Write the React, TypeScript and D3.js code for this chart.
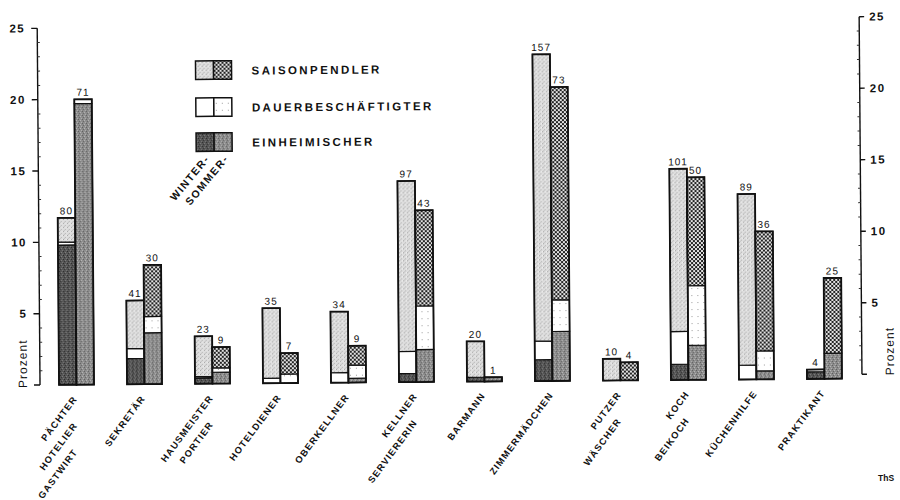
import React from 'react';
import * as d3 from 'd3';

// ---- data ----
const categories = [
  'PÄCHTER|HOTELIER|GASTWIRT', 'SEKRETÄR', 'HAUSMEISTER|PORTIER', 'HOTELDIENER', 'OBERKELLNER',
  'KELLNER|SERVIERERIN', 'BARMANN', 'ZIMMERMÄDCHEN', 'PUTZER|WÄSCHER', 'KOCH|BEIKOCH',
  'KÜCHENHILFE', 'PRAKTIKANT',
];
const seasons = ['winter', 'sommer'];
const winterCount = [80, 41, 23, 35, 34, 97, 20, 157, 10, 101, 89, 4];
const sommerCount = [71, 30, 9, 7, 9, 43, 1, 73, 4, 50, 36, 25];
const winterEinheimisch = [9.8, 1.8, 0.4, 0, 0, 0.6, 0.3, 1.5, 0, 1.1, 0, 0.5];
const winterDauer = [0.2, 0.7, 0.1, 0.35, 0.7, 1.55, 0, 1.3, 0, 2.3, 1.0, 0.16];
const winterSaison = [1.7, 3.37, 2.83, 4.91, 4.28, 11.95, 2.52, 20.1, 1.52, 11.4, 12.0, 0];
const sommerEinheimisch = [19.7, 3.6, 0.8, 0, 0.3, 2.28, 0.3, 3.47, 0, 2.42, 0.59, 1.79];
const sommerDauer = [0.3, 1.14, 0.3, 0.63, 0.92, 3.05, 0, 2.21, 0, 4.18, 1.4, 0];
const sommerSaison = [0, 3.62, 1.46, 1.47, 1.36, 6.71, 0, 14.92, 1.27, 7.6, 8.38, 5.28];
const yTicks = [5, 10, 15, 20, 25];
const minorTicks = d3.range(0, 26);
const legendLabels = ['SAISONPENDLER', 'DAUERBESCHÄFTIGTER', 'EINHEIMISCHER'];
const seasonLabels = ['WINTER-', 'SOMMER-'];
const keys = ['einheimisch', 'dauer', 'saison'];

const FONT = "'Liberation Sans', Arial, Helvetica, sans-serif";

const fills: Record<string, Record<string, string>> = {
  winter: { einheimisch: 'url(#pWE)', dauer: '#ffffff', saison: 'url(#pWS)' },
  sommer: { einheimisch: 'url(#pSE)', dauer: 'url(#pSD)', saison: 'url(#pSS)' },
};

export default function App() {
  const x = d3.scaleBand<string>().domain(categories).range([59, 842]).paddingInner(0.485).paddingOuter(0);
  const xs = d3.scaleBand<string>().domain(seasons).range([0, x.bandwidth()]);
  const y = d3.scaleLinear().domain([0, 25]).range([381.8, 25.1]);
  const yR = d3.scaleLinear().domain([0, 25]).range([377.5, 19.9]);

  const rows = (season: string) =>
    categories.map((c, i) => ({
      cat: c,
      einheimisch: season === 'winter' ? winterEinheimisch[i] : sommerEinheimisch[i],
      dauer: season === 'winter' ? winterDauer[i] : sommerDauer[i],
      saison: season === 'winter' ? winterSaison[i] : sommerSaison[i],
      count: season === 'winter' ? winterCount[i] : sommerCount[i],
    }));
  const stack = d3.stack<any>().keys(keys);
  const stacked: Record<string, any> = { winter: stack(rows('winter')), sommer: stack(rows('sommer')) };

  const axL = 40;
  const axR = 862;

  return (
    <svg width={900} height={500} style={{ position: 'absolute', left: 0, top: 0, background: '#fff' }}
      fontFamily={FONT}>
      <defs>
        <pattern id="pWS" width="4" height="4" patternUnits="userSpaceOnUse">
          <rect width="4" height="4" fill="#dedede" />
          <rect x="0" y="0" width="1" height="1" fill="#a0a0a0" />
          <rect x="2" y="2" width="1" height="1" fill="#b4b4b4" />
          <rect x="3" y="0" width="1" height="1" fill="#f6f6f6" />
          <rect x="1" y="3" width="1" height="1" fill="#c0c0c0" />
        </pattern>
        <pattern id="pSS" width="4" height="4" patternUnits="userSpaceOnUse">
          <rect width="4" height="4" fill="#e2e2e2" />
          <rect x="0" y="0" width="2" height="2" fill="#222222" />
          <rect x="2" y="2" width="2" height="2" fill="#222222" />
        </pattern>
        <pattern id="pWE" width="4" height="4" patternUnits="userSpaceOnUse">
          <rect width="4" height="4" fill="#555555" />
          <rect x="0" y="0" width="1" height="1" fill="#2a2a2a" />
          <rect x="2" y="1" width="1" height="1" fill="#808080" />
          <rect x="1" y="2" width="1" height="1" fill="#333333" />
          <rect x="3" y="3" width="1" height="1" fill="#777777" />
        </pattern>
        <pattern id="pSE" width="4" height="4" patternUnits="userSpaceOnUse">
          <rect width="4" height="4" fill="#8c8c8c" />
          <rect x="0" y="0" width="1" height="1" fill="#5a5a5a" />
          <rect x="2" y="1" width="1" height="1" fill="#bcbcbc" />
          <rect x="1" y="2" width="1" height="1" fill="#626262" />
          <rect x="3" y="3" width="1" height="1" fill="#b4b4b4" />
        </pattern>
        <pattern id="pSD" width="6" height="7" patternUnits="userSpaceOnUse">
          <rect width="6" height="7" fill="#ffffff" />
          <rect x="2" y="3" width="1" height="1" fill="#9a9a9a" />
        </pattern>
      </defs>

      <g transform="rotate(-0.45 450 381)">
        {/* left axis */}
        <line x1={axL} x2={axL} y1={y(25)} y2={y(0)} stroke="#111" strokeWidth={1.4} />
        {[0, ...yTicks].map(t => (
          <line key={'lt' + t} x1={axL - 6} x2={axL} y1={y(t)} y2={y(t)} stroke="#111" strokeWidth={1.4} />
        ))}
        {minorTicks.filter(t => t % 5 !== 0).map(t => (
          <line key={'lm' + t} x1={axL} x2={axL + 2.5} y1={y(t)} y2={y(t)} stroke="#333" strokeWidth={1} />
        ))}
        {yTicks.map(t => (
          <text key={'ll' + t} x={axL - 12} y={y(t)} dy="0.35em" textAnchor="end" fontSize={11.5}
            fontWeight="bold" letterSpacing={1.5} fill="#111">{t}</text>
        ))}
        <text transform={`translate(27, ${y(1.5)}) rotate(-90)`} textAnchor="middle" fontSize={12}
          letterSpacing={1} fill="#111">Prozent</text>

        {/* right axis */}
        <line x1={axR} x2={axR} y1={yR(25)} y2={yR(0)} stroke="#111" strokeWidth={1.4} />
        {[0, ...yTicks].map(t => (
          <line key={'rt' + t} x1={axR} x2={axR + 5} y1={yR(t)} y2={yR(t)} stroke="#111" strokeWidth={1.4} />
        ))}
        {minorTicks.filter(t => t % 5 !== 0).map(t => (
          <line key={'rm' + t} x1={axR - 2.5} x2={axR} y1={yR(t)} y2={yR(t)} stroke="#333" strokeWidth={1} />
        ))}
        {yTicks.map(t => (
          <text key={'rl' + t} x={axR + 10} y={yR(t)} dy="0.35em" textAnchor="start" fontSize={11.5}
            fontWeight="bold" letterSpacing={1.5} fill="#111">{t}</text>
        ))}
        <text transform={`translate(894, ${yR(1.6)}) rotate(-90)`} textAnchor="middle" fontSize={12}
          letterSpacing={1} fill="#111">Prozent</text>

        {/* bars */}
        {seasons.map(season => (
          <g key={season}>
            {stacked[season].map((layer: any) => (
              <g key={layer.key}>
                {layer.map((d: any) => {
                  const h = y(d[0]) - y(d[1]);
                  if (h <= 0) return null;
                  return (
                    <rect key={d.data.cat} x={(x(d.data.cat) as number) + (xs(season) as number)}
                      y={y(d[1])} width={xs.bandwidth()} height={h}
                      fill={fills[season][layer.key]} stroke="#111" strokeWidth={1.2} />
                  );
                })}
              </g>
            ))}
            {rows(season).map(r => {
              const total = r.einheimisch + r.dauer + r.saison;
              const bx = (x(r.cat) as number) + (xs(season) as number);
              return (
                <g key={'o' + r.cat}>
                  <rect x={bx} y={y(total)} width={xs.bandwidth()} height={y(0) - y(total)}
                    fill="none" stroke="#111" strokeWidth={1.8} />
                  <text x={bx + xs.bandwidth() / 2} y={y(total) - 3.5} textAnchor="middle" fontSize={10}
                    letterSpacing={1} fill="#111">{r.count}</text>
                </g>
              );
            })}
          </g>
        ))}

        {/* category labels */}
        {categories.map(c => {
          const cx = (x(c) as number) + x.bandwidth() / 2;
          return c.split('|').map((line, i) => (
            <text key={c + i} transform={`translate(${cx + 1}, ${396 + 26.5 * i}) rotate(-53)`}
              textAnchor="end" fontSize={9.3} fontWeight="bold" letterSpacing={1.2} fill="#111">{line}</text>
          ));
        })}

        {/* legend */}
        {legendLabels.map((lab, i) => {
          const ly = [59, 96, 131][i];
          const key = keys[2 - i];
          return (
            <g key={lab}>
              <rect x={198} y={ly} width={18} height={18.5} fill={fills.winter[key]} stroke="#111" strokeWidth={1.5} />
              <rect x={216} y={ly} width={18} height={18.5} fill={fills.sommer[key]} stroke="#111" strokeWidth={1.5} />
              <text x={254} y={ly + 14} fontSize={11.5} fontWeight="bold" letterSpacing={2.4} fill="#111">{lab}</text>
            </g>
          );
        })}
        {seasonLabels.map((lab, i) => (
          <text key={lab} transform={`translate(${212 + 19 * i}, 157) rotate(-50)`} textAnchor="end"
            fontSize={10.5} fontWeight="bold" letterSpacing={1.5} fill="#111">{lab}</text>
        ))}
      </g>

      <text x={878} y={481} fontSize={8.5} fontWeight="bold" fill="#111">ThS</text>
    </svg>
  );
}
